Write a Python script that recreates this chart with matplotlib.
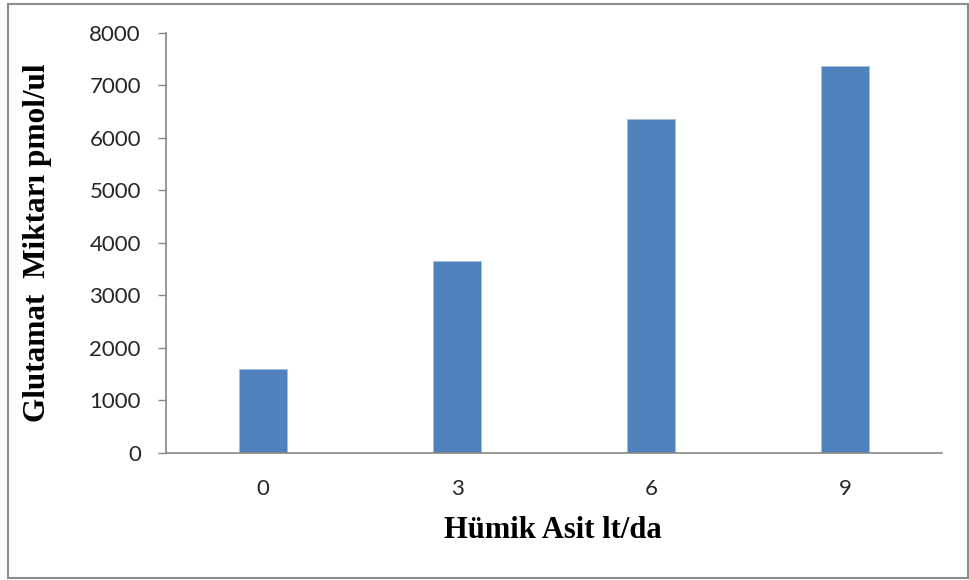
import matplotlib.pyplot as plt
from matplotlib.patches import Rectangle

categories = ["0", "3", "6", "9"]
glutamat = [1600, 3650, 6360, 7370]
y_ticks = [0, 1000, 2000, 3000, 4000, 5000, 6000, 7000, 8000]

bar_color = "#4F81BD"
axis_gray = "#868686"

fig = plt.figure(figsize=(9.7, 5.8), dpi=100)
ax = fig.add_axes([0.1711, 0.219, 0.8, 0.7241])

x = range(len(categories))
ax.bar(x, glutamat, width=0.25, color=bar_color, edgecolor="#A7C0DE", linewidth=0.6)

ax.set_xlim(-0.5, len(categories) - 0.5)
ax.set_ylim(0, 8000)
ax.set_yticks(y_ticks)
ax.set_yticklabels([str(t) for t in y_ticks], family="Lato", fontsize=16, color="#262626")
ax.set_xticks(list(x))
ax.set_xticklabels(categories, family="Lato", fontsize=16, color="#262626")
ax.tick_params(axis="y", direction="out", length=6, width=1, color=axis_gray, pad=12)
ax.tick_params(axis="x", length=0, pad=19)

for side in ["top", "right"]:
    ax.spines[side].set_visible(False)
for side in ["left", "bottom"]:
    ax.spines[side].set_color(axis_gray)
    ax.spines[side].set_linewidth(1.2)

fig.text(553 / 970, 1 - 530 / 580, "Hümik Asit lt/da", ha="center", va="center",
         family="Liberation Serif", fontweight="bold", fontsize=22)
fig.text(38 / 970, 1 - 243 / 580, "Glutamat  Miktarı pmol/ul", ha="center", va="center",
         rotation=90, family="Liberation Serif", fontweight="bold", fontsize=22.5)

# chart area frame
fig.patches.append(Rectangle((8 / 970, 2 / 580), 960 / 970, 574 / 580, transform=fig.transFigure,
                             fill=False, edgecolor="#8C8C8C", linewidth=1.5))

fig.savefig("out.png", dpi=100)
